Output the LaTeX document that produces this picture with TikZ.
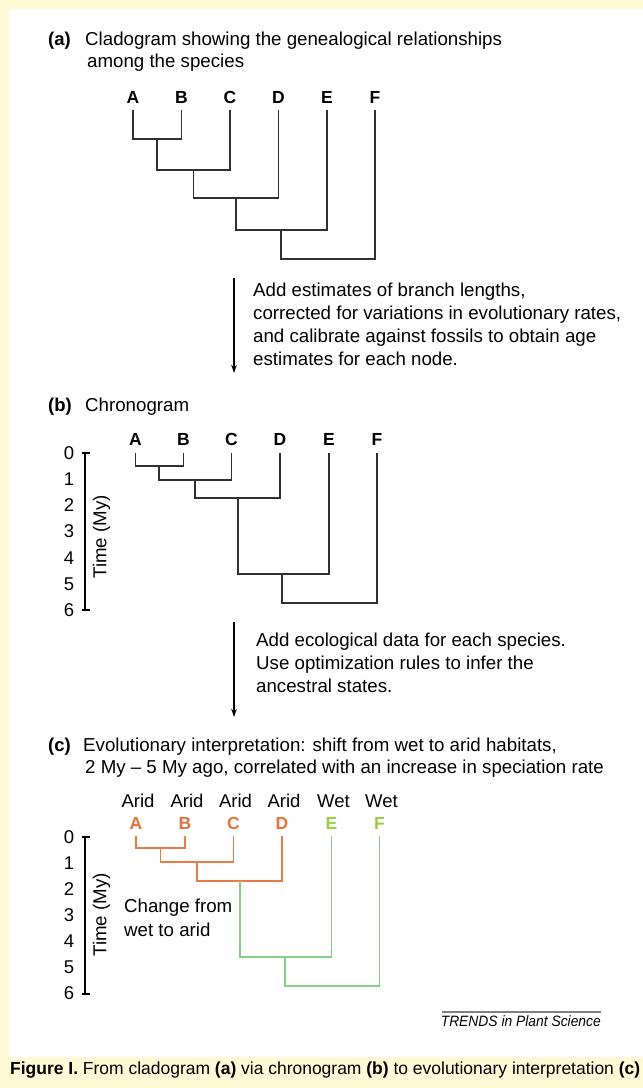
\documentclass[tikz,border=0pt]{standalone}
\usepackage{fontspec}
\setmainfont{Liberation Sans}
\usetikzlibrary{arrows.meta}

\definecolor{pagebg}{HTML}{FFF9D6}
\definecolor{treeline}{HTML}{303030}
\definecolor{aridtxt}{HTML}{E9703A}
\definecolor{aridline}{HTML}{EC7A45}
\definecolor{wettxt}{HTML}{9ACF3A}
\definecolor{wetline}{HTML}{86CF86}
\definecolor{rulegray}{HTML}{808080}

\tikzset{
  body/.style={font=\fontsize{18.7}{22}\selectfont, inner sep=0pt, anchor=base west},
  headlabel/.style={font=\bfseries\fontsize{18.5}{22}\selectfont, inner sep=0pt, anchor=base west},
  leaf/.style={font=\bfseries\fontsize{17.5}{20}\selectfont, inner sep=0pt},
  habitat/.style={font=\fontsize{18.5}{22}\selectfont, inner sep=0pt, anchor=base},
  ticklabel/.style={font=\fontsize{18.5}{20}\selectfont, inner sep=0pt},
  axislabel/.style={font=\fontsize{18.7}{22}\selectfont, inner sep=0pt, rotate=90},
  branch/.style={line width=1.1pt, draw=treeline},
  timeaxis/.style={line width=1.1pt, draw=black},
  flow/.style={line width=1.1pt, -{Stealth[length=8pt,width=5.5pt]}},
}

\begin{document}
\begin{tikzpicture}[x=1pt,y=-1pt]
\useasboundingbox (0,0) rectangle (643,1088);
\fill[pagebg] (0,0) rectangle (643,1088);
\fill[white] (9,9) rectangle (643,1057);

% ---------- (a) cladogram ----------
\node[headlabel] (aLab) at (48,45) {(a)};
\node[body] (aT1) at (85,45) {Cladogram showing the genealogical relationships};
\node[body] (aT2) at (87,67) {among the species};

\foreach \n/\x in {A/133,B/181.5,C/230,D/278.5,E/327,F/375} {
  \node[leaf] (a\n) at (\x,97) {\n};
  \coordinate (a\n-t) at (\x,110);
}
\coordinate (aAB) at (157,139);
\coordinate (aABC) at (193.5,170);
\coordinate (aABCD) at (236,198);
\coordinate (aABCDE) at (281,230);
\coordinate (aRoot) at (281,259);
\draw[branch] (aA-t) |- (aAB) -| (aB-t);
\draw[branch] (aAB) |- (aABC) -| (aC-t);
\draw[branch] (aABC) |- (aABCD) -| (aD-t);
\draw[branch] (aABCD) |- (aABCDE) -| (aE-t);
\draw[branch] (aABCDE) |- (aRoot) -| (aF-t);

% ---------- step 1 ----------
\coordinate (s1start) at (234,278);
\coordinate (s1end) at (234,373);
\draw[flow] (s1start) -- (s1end);
\node[body] (s1l1) at (253,296) {Add estimates of branch lengths,};
\node[body] (s1l2) at (253,319) {corrected for variations in evolutionary rates,};
\node[body] (s1l3) at (253,342) {and calibrate against fossils to obtain age};
\node[body] (s1l4) at (253,365) {estimates for each node.};

% ---------- (b) chronogram ----------
\node[headlabel] (bLab) at (48,411) {(b)};
\node[body] (bT) at (85,411) {Chronogram};

\foreach \n/\x in {A/135.5,B/183.5,C/231.5,D/280,E/329,F/377} {
  \node[leaf] (b\n) at (\x,439) {\n};
  \coordinate (b\n-t) at (\x,453);
}
\coordinate (bAB) at (159,466);
\coordinate (bABC) at (195,480);
\coordinate (bABCD) at (238,498);
\coordinate (bABCDE) at (282,574);
\coordinate (bRoot) at (282,603);
\draw[branch] (bA-t) |- (bAB) -| (bB-t);
\draw[branch] (bAB) |- (bABC) -| (bC-t);
\draw[branch] (bABC) |- (bABCD) -| (bD-t);
\draw[branch] (bABCD) |- (bABCDE) -| (bE-t);
\draw[branch] (bABCDE) |- (bRoot) -| (bF-t);

\coordinate (bAx0) at (85,453);
\coordinate (bAx6) at (85,610);
\draw[timeaxis] (bAx0) -- (bAx6);
\draw[timeaxis] ([xshift=-3pt]bAx0) -- ([xshift=5pt]bAx0);
\draw[timeaxis] ([xshift=-3pt]bAx6) -- ([xshift=5pt]bAx6);
\foreach \k in {0,...,6} {
  \node[ticklabel] (bN\k) at (69,{453+26.2*\k}) {\k};
}
\node[axislabel] (bTime) at (101.5,537) {Time (My)};

% ---------- step 2 ----------
\coordinate (s2start) at (234,622);
\coordinate (s2end) at (234,717);
\draw[flow] (s2start) -- (s2end);
\node[body] (s2l1) at (256,646) {Add ecological data for each species.};
\node[body] (s2l2) at (256,669) {Use optimization rules to infer the};
\node[body] (s2l3) at (256,692) {ancestral states.};

% ---------- (c) evolutionary interpretation ----------
\node[headlabel] (cLab) at (48,751) {(c)};
\node[body] (cT1) at (83,751) {Evolutionary interpretation: shift from wet to arid habitats,};
\node[body] (cT2) at (85,773) {2 My -- 5 My ago, correlated with an increase in speciation rate};

\foreach \n/\x/\h/\c in {A/136/Arid/aridtxt,B/185/Arid/aridtxt,C/233.5/Arid/aridtxt,D/282/Arid/aridtxt,E/331.5/Wet/wettxt,F/379.5/Wet/wettxt} {
  \node[habitat] (c\n-h) at (\x+2,807) {\h};
  \node[leaf, text=\c] (c\n) at (\x,823) {\n};
  \coordinate (c\n-t) at (\x,836);
}
\coordinate (cAB) at (160.5,848);
\coordinate (cABC) at (197,862);
\coordinate (cABCD) at (240,881);
\coordinate (cABCDE) at (285,957);
\coordinate (cRoot) at (285,986);
\draw[branch, draw=aridline] (cA-t) |- (cAB) -| (cB-t);
\draw[branch, draw=aridline] (cAB) |- (cABC) -| (cC-t);
\draw[branch, draw=aridline] (cABC) |- (cABCD) -| (cD-t);
\draw[branch, draw=wetline] (cABCD) |- (cABCDE) -| (cE-t);
\draw[branch, draw=wetline] (cABCDE) |- (cRoot) -| (cF-t);

\coordinate (cAx0) at (85,837);
\coordinate (cAx6) at (85,994);
\draw[timeaxis] (cAx0) -- (cAx6);
\draw[timeaxis] ([xshift=-3pt]cAx0) -- ([xshift=5pt]cAx0);
\draw[timeaxis] ([xshift=-3pt]cAx6) -- ([xshift=5pt]cAx6);
\foreach \k in {0,...,6} {
  \node[ticklabel] (cN\k) at (69,{837+26.1*\k}) {\k};
}
\node[axislabel] (cTime) at (101.5,915) {Time (My)};

\node[body] (cChg1) at (124,912) {Change from};
\node[body] (cChg2) at (124,936) {wet to arid};

% ---------- source line ----------
\coordinate (srcL) at (442,1012);
\coordinate (srcR) at (601,1012);
\draw[line width=1.2pt, rulegray] (srcL) -- (srcR);
\node[inner sep=0pt, anchor=base east, font=\itshape\fontsize{15}{18}\selectfont] (src) at (601,1026)
  {\resizebox{160pt}{\height}{TRENDS in Plant Science}};

% ---------- caption ----------
\node[inner sep=0pt, anchor=base west, font=\fontsize{17.5}{20}\selectfont] (caption) at (10,1074)
  {\resizebox{630pt}{\height}{\textbf{Figure I.} From cladogram \textbf{(a)} via chronogram \textbf{(b)} to evolutionary interpretation \textbf{(c)}}};
\end{tikzpicture}
\end{document}
